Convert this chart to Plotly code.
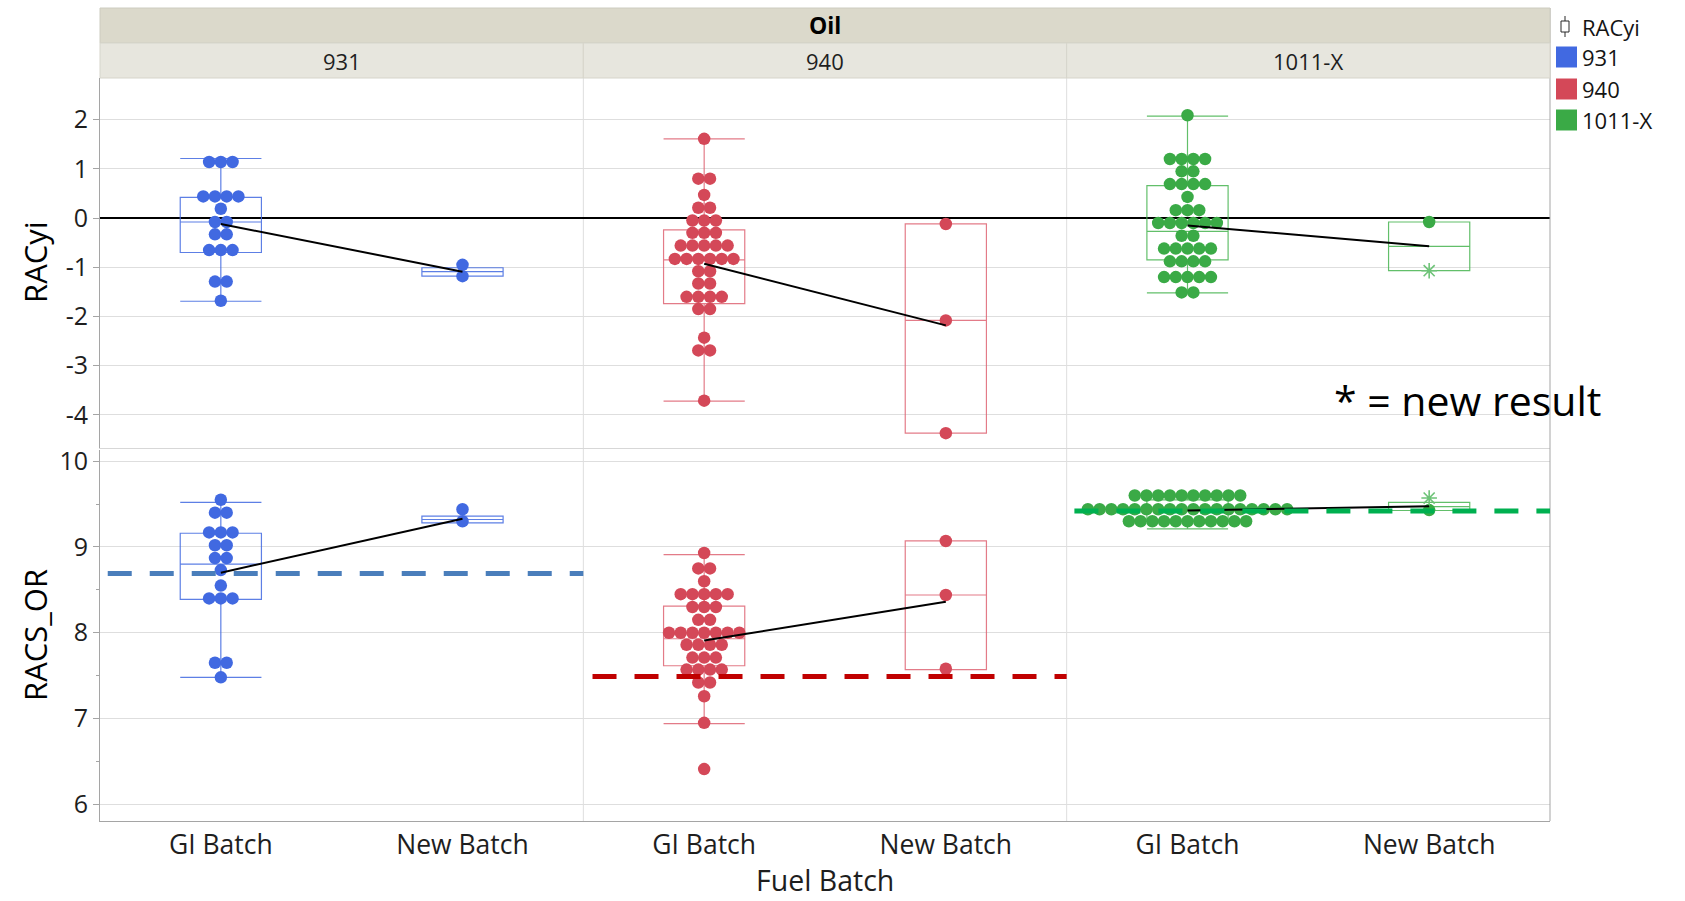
import numpy as np
import plotly.graph_objects as go

# ---------------- data ----------------
oils = ["931", "940", "1011-X"]
batches = ["GI Batch", "New Batch"]

# RACyi (top row)
racyi_931_gi = [1.14, 1.14, 1.14, 0.44, 0.44, 0.44, 0.44, 0.19, -0.08, -0.08,
                -0.33, -0.33, -0.65, -0.65, -0.65, -1.29, -1.29, -1.68]
racyi_931_new = [-0.95, -1.18]
racyi_940_gi = [1.61, 0.80, 0.80, 0.47, 0.21, 0.21, -0.05, -0.05, -0.05,
                -0.30, -0.30, -0.30, -0.56, -0.56, -0.56, -0.56, -0.56,
                -0.83, -0.83, -0.83, -0.83, -0.83, -0.83, -1.08, -1.08,
                -1.33, -1.33, -1.60, -1.60, -1.60, -1.60, -1.85, -1.85,
                -2.43, -2.69, -2.69, -3.71]
racyi_940_new = [-0.12, -2.08, -4.37]
racyi_1011_gi = [2.09, 1.20, 1.20, 1.20, 1.20, 0.95, 0.95, 0.69, 0.69, 0.69, 0.69,
                 0.43, 0.16, 0.16, 0.16, -0.10, -0.10, -0.10, -0.10, -0.10, -0.10,
                 -0.36, -0.36, -0.62, -0.62, -0.62, -0.62, -0.62,
                 -0.88, -0.88, -0.88, -0.88, -1.20, -1.20, -1.20, -1.20, -1.20,
                 -1.51, -1.51]
racyi_1011_new = [-0.08, -1.07]
racyi_1011_new_flag = [0, 1]  # 1 = new result (asterisk)

# RACS_OR (bottom row)
racs_931_gi = [9.55, 9.40, 9.40, 9.17, 9.17, 9.17, 9.02, 9.02, 8.87, 8.87,
               8.73, 8.55, 8.40, 8.40, 8.40, 7.65, 7.65, 7.48]
racs_931_new = [9.44, 9.30]
racs_940_gi = [8.93, 8.75, 8.75, 8.60, 8.45, 8.45, 8.45, 8.45, 8.45,
               8.30, 8.30, 8.30, 8.15, 8.15, 8.00, 8.00, 8.00, 8.00, 8.00, 8.00, 8.00,
               7.86, 7.86, 7.86, 7.86, 7.71, 7.71, 7.71, 7.57, 7.57, 7.57, 7.57,
               7.42, 7.42, 7.26, 6.95, 6.41]
racs_940_new = [9.07, 8.44, 7.58]
racs_1011_gi = [9.60, 9.60, 9.60, 9.60, 9.60, 9.60, 9.60, 9.60, 9.60, 9.60,
                9.44, 9.44, 9.44, 9.44, 9.44, 9.44, 9.44, 9.44, 9.44,
                9.44, 9.44, 9.44, 9.44, 9.44, 9.44, 9.44, 9.44, 9.44,
                9.30, 9.30, 9.30, 9.30, 9.30, 9.30, 9.30, 9.30, 9.30, 9.30, 9.30]
racs_1011_new = [9.57, 9.43]
racs_1011_new_flag = [1, 0]

# box statistics: [lowerfence, q1, median, q3, upperfence]
box_racyi = {
    ("931", 0): [-1.69, -0.70, -0.08, 0.42, 1.21],
    ("931", 1): [-1.18, -1.18, -1.09, -1.01, -1.01],
    ("940", 0): [-3.72, -1.74, -0.85, -0.24, 1.61],
    ("940", 1): [-4.37, -4.37, -2.08, -0.12, -0.12],
    ("1011-X", 0): [-1.52, -0.85, -0.27, 0.66, 2.07],
    ("1011-X", 1): [-1.07, -1.07, -0.575, -0.08, -0.08],
}
box_racs = {
    ("931", 0): [7.48, 8.39, 8.80, 9.16, 9.52],
    ("931", 1): [9.28, 9.28, 9.32, 9.36, 9.36],
    ("940", 0): [6.94, 7.615, 7.93, 8.31, 8.91],
    ("940", 1): [7.57, 7.57, 8.44, 9.07, 9.07],
    ("1011-X", 0): [9.21, 9.30, 9.44, 9.55, 9.60],
    ("1011-X", 1): [9.425, 9.425, 9.47, 9.52, 9.52],
}

# group means (black connecting lines): [GI, New]
mean_racyi = {"931": [-0.12, -1.09], "940": [-0.93, -2.18], "1011-X": [-0.15, -0.575]}
mean_racs = {"931": [8.70, 9.33], "940": [7.91, 8.36], "1011-X": [9.425, 9.475]}

# reference (dashed) levels for RACS_OR per oil
racs_ref = [8.69, 7.49, 9.42]

racyi_tick = [-4, -3, -2, -1, 0, 1, 2]
racs_tick = [6, 7, 8, 9, 10]

# ---------------- style ----------------
colors = ["rgb(65,105,225)", "rgb(212,72,88)", "rgb(58,170,70)"]
box_colors = ["rgba(65,105,225,0.85)", "rgba(222,100,115,0.85)", "rgba(70,180,80,0.85)"]
ref_colors = ["rgb(74,126,187)", "rgb(192,0,0)", "rgb(0,176,80)"]
ast_color = "rgb(110,195,120)"
FONT = "Open Sans"
W, H = 1685, 901
L, R, T, B = 100, 1550, 78, 821


def X(px):
    return (px - L) / (R - L)


def Y(py):
    return (B - py) / (B - T)


def swarm(vals, step=0.0485):
    v = np.asarray(vals, dtype=float)
    off = np.zeros(len(v))
    for u in np.unique(v):
        idx = np.where(v == u)[0]
        n = len(idx)
        off[idx] = (np.arange(n) - (n - 1) / 2) * step
    return off


fig = go.Figure()

panels = [
    (0, 0, racyi_931_gi, racyi_931_new, None, box_racyi, mean_racyi),
    (0, 1, racyi_940_gi, racyi_940_new, None, box_racyi, mean_racyi),
    (0, 2, racyi_1011_gi, racyi_1011_new, racyi_1011_new_flag, box_racyi, mean_racyi),
    (1, 0, racs_931_gi, racs_931_new, None, box_racs, mean_racs),
    (1, 1, racs_940_gi, racs_940_new, None, box_racs, mean_racs),
    (1, 2, racs_1011_gi, racs_1011_new, racs_1011_new_flag, box_racs, mean_racs),
]

for row, col, gi, new, flag, boxes, means in panels:
    k = row * 3 + col + 1
    xa = "x" if k == 1 else f"x{k}"
    ya = "y" if k == 1 else f"y{k}"
    oil = oils[col]
    c = colors[col]
    for bi in (0, 1):
        lf, q1, med, q3, uf = boxes[(oil, bi)]
        fig.add_trace(go.Box(
            x=[bi], q1=[q1], median=[med], q3=[q3], lowerfence=[lf], upperfence=[uf],
            width=0.336, whiskerwidth=1, boxpoints=False,
            fillcolor="rgba(0,0,0,0)", line=dict(color=box_colors[col], width=1.2),
            xaxis=xa, yaxis=ya, hoverinfo="skip"))
    fig.add_trace(go.Scatter(
        x=0 + swarm(gi), y=gi, mode="markers",
        marker=dict(size=12.5, color=c, line=dict(width=0)),
        xaxis=xa, yaxis=ya, hoverinfo="skip"))
    newv = np.asarray(new, dtype=float)
    fl = np.zeros(len(newv), dtype=int) if flag is None else np.asarray(flag)
    norm = newv[fl == 0]
    ast = newv[fl == 1]
    fig.add_trace(go.Scatter(
        x=1 + swarm(norm), y=norm, mode="markers",
        marker=dict(size=12.5, color=c, line=dict(width=0)),
        xaxis=xa, yaxis=ya, hoverinfo="skip"))
    if len(ast):
        fig.add_trace(go.Scatter(
            x=np.ones(len(ast)), y=ast, mode="markers",
            marker=dict(size=13, symbol="asterisk-open", color=ast_color,
                        line=dict(width=1.6, color=ast_color)),
            xaxis=xa, yaxis=ya, hoverinfo="skip"))
    fig.add_trace(go.Scatter(
        x=[0, 1], y=means[oil], mode="lines",
        line=dict(color="black", width=2),
        xaxis=xa, yaxis=ya, hoverinfo="skip"))

# ---------------- axes ----------------
thirds = [(0, 1 / 3), (1 / 3, 2 / 3), (2 / 3, 1)]
top_dom = [0.5015, 1.0]
bot_dom = [0.0, 0.4987]
grid_c = "rgb(222,222,222)"
axis_c = "rgb(165,165,165)"
lay = {}
for row in (0, 1):
    for col in (0, 1, 2):
        k = row * 3 + col + 1
        xn = "xaxis" if k == 1 else f"xaxis{k}"
        yn = "yaxis" if k == 1 else f"yaxis{k}"
        xa = "x" if k == 1 else f"x{k}"
        ya = "y" if k == 1 else f"y{k}"
        lay[xn] = dict(
            domain=list(thirds[col]), anchor=ya, range=[-0.5, 1.5],
            showgrid=False, zeroline=False,
            tickmode="array", tickvals=[0, 1], ticktext=batches,
            showticklabels=(row == 1), ticks="",
            tickfont=dict(family=FONT, size=26.5, color="rgb(30,30,30)"),
            showline=True, linecolor=(axis_c if row == 1 else "rgb(215,215,215)"),
            linewidth=1, fixedrange=True)
        ydict = dict(
            domain=top_dom if row == 0 else bot_dom, anchor=xa,
            showgrid=True, gridcolor=grid_c, gridwidth=1,
            tickmode="array",
            showticklabels=(col == 0),
            tickfont=dict(family=FONT, size=25, color="rgb(30,30,30)"),
            showline=(col == 0), linecolor=axis_c, linewidth=1,
            ticks="outside" if col == 0 else "", ticklen=6, tickcolor=axis_c,
            fixedrange=True)
        if row == 0:
            ydict.update(range=[-4.68, 2.846], tickvals=racyi_tick,
                         ticktext=[str(t) for t in racyi_tick],
                         zeroline=True, zerolinecolor="black", zerolinewidth=2)
        else:
            ydict.update(range=[5.805, 10.125], tickvals=racs_tick,
                         ticktext=[str(t) for t in racs_tick], zeroline=False)
            if col == 0:
                ydict["minor"] = dict(ticks="outside", dtick=0.5, tick0=6,
                                      ticklen=3, tickcolor=axis_c, showgrid=False)
        lay[yn] = ydict

fig.update_layout(**lay)

# ---------------- shapes ----------------
shapes = []
for c in (1 / 3, 2 / 3):
    shapes.append(dict(type="line", xref="paper", yref="paper", x0=c, x1=c, y0=0, y1=1,
                       line=dict(color="rgb(222,222,222)", width=1), layer="below"))
shapes.append(dict(type="line", xref="paper", yref="paper", x0=1, x1=1, y0=0, y1=Y(8),
                   line=dict(color=axis_c, width=1), layer="above"))
shapes.append(dict(type="rect", xref="paper", yref="paper", x0=0, x1=1, y0=Y(43), y1=Y(8),
                   fillcolor="rgb(219,217,203)", line=dict(color="rgb(205,204,192)", width=1),
                   layer="above"))
for i, (a, b) in enumerate(thirds):
    shapes.append(dict(type="rect", xref="paper", yref="paper", x0=a, x1=b, y0=Y(78), y1=Y(43),
                       fillcolor="rgb(231,230,222)", line=dict(color="rgb(214,213,203)", width=1),
                       layer="above"))
for col in range(3):
    k = 4 + col
    x0 = 0.016 if col != 1 else 0.019
    shapes.append(dict(type="line", xref=f"x{k} domain", yref=f"y{k}",
                       x0=x0, x1=1, y0=racs_ref[col], y1=racs_ref[col],
                       line=dict(color=ref_colors[col], width=5, dash="24px,18px"),
                       layer="above"))
# legend: box icon and colour squares
shapes.append(dict(type="line", xref="paper", yref="paper", x0=X(1565), x1=X(1565),
                   y0=Y(37), y1=Y(16), line=dict(color="rgb(40,40,40)", width=1)))
shapes.append(dict(type="rect", xref="paper", yref="paper", x0=X(1561), x1=X(1569),
                   y0=Y(32), y1=Y(21), fillcolor="white",
                   line=dict(color="rgb(40,40,40)", width=1)))
leg_y = [57, 89, 120]
for i in range(3):
    shapes.append(dict(type="rect", xref="paper", yref="paper", x0=X(1556), x1=X(1577),
                       y0=Y(leg_y[i] + 10.5), y1=Y(leg_y[i] - 10.5),
                       fillcolor=colors[i], line=dict(width=0)))
fig.update_layout(shapes=shapes)


# ---------------- annotations ----------------
def txt(text, px, py, size, color="black", xanchor="center", angle=0):
    return dict(text=text, x=X(px), y=Y(py), xref="paper", yref="paper",
                xanchor=xanchor, yanchor="middle", textangle=angle, showarrow=False,
                font=dict(family=FONT, size=size, color=color))


ann = [txt("<b>Oil</b>", 825, 25.5, 23)]
for i, (a, b) in enumerate(thirds):
    ann.append(txt(oils[i], L + (a + b) / 2 * (R - L), 60.5, 22, "rgb(30,30,30)"))
ann.append(txt("RACyi", 35, 262, 31, angle=-90))
ann.append(txt("RACS_OR", 35, 635, 31, angle=-90))
ann.append(txt("Fuel Batch", 825, 880, 28.5, "rgb(30,30,30)"))
ann.append(txt("* = new result", 1332, 400, 41, xanchor="left"))
ann.append(txt("RACyi", 1580, 27, 22, "rgb(20,20,20)", xanchor="left"))
for i in range(3):
    ann.append(txt(oils[i], 1580, leg_y[i], 22, "rgb(20,20,20)", xanchor="left"))
fig.update_layout(annotations=ann)

fig.update_layout(width=W, height=H, margin=dict(l=L, r=W - R, t=T, b=H - B, pad=0),
                  plot_bgcolor="white", paper_bgcolor="white", showlegend=False,
                  boxmode="overlay", font=dict(family=FONT))

fig.write_html("out.html", config={"displayModeBar": False, "staticPlot": True},
               post_script="document.body.style.margin='0';document.body.style.overflow='hidden';")
